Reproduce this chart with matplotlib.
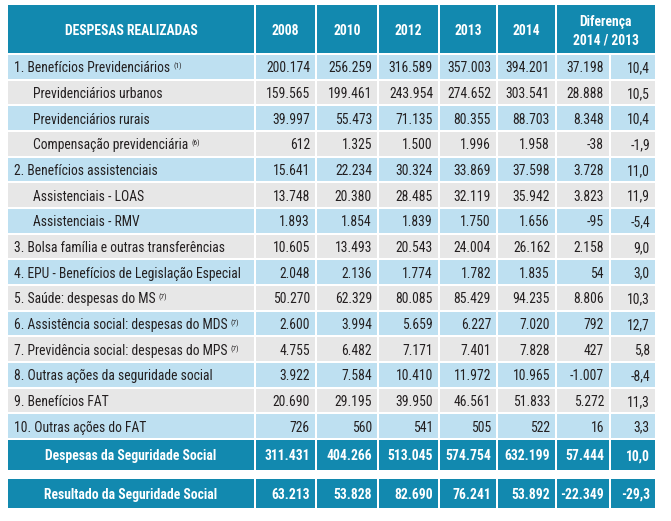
import matplotlib
matplotlib.use("Agg")
import matplotlib.pyplot as plt
from matplotlib.patches import Rectangle
from matplotlib import font_manager
from matplotlib.font_manager import FontProperties

# ---------------- data ----------------
header_label = "DESPESAS REALIZADAS"
years = ["2008", "2010", "2012", "2013", "2014"]
diff_header = "Diferença\n2014 / 2013"

row_labels = [
    "1. Benefícios Previdenciários",
    "Previdenciários urbanos",
    "Previdenciários rurais",
    "Compensação previdenciária",
    "2. Benefícios assistenciais",
    "Assistenciais - LOAS",
    "Assistenciais - RMV",
    "3. Bolsa família e outras transferências",
    "4. EPU - Benefícios de Legislação Especial",
    "5. Saúde: despesas do MS",
    "6. Assistência social: despesas do MDS",
    "7. Previdência social: despesas do MPS",
    "8. Outras ações da seguridade social",
    "9. Benefícios FAT",
    "10. Outras ações do FAT",
]
row_notes = ["(1)", "", "", "(6)", "", "", "", "", "", "(7)", "(7)", "(7)", "", "", ""]
row_indent = [0, 1, 1, 1, 0, 1, 1, 0, 0, 0, 0, 0, 0, 0, 0]

v2008 = ["200.174", "159.565", "39.997", "612", "15.641", "13.748", "1.893", "10.605",
         "2.048", "50.270", "2.600", "4.755", "3.922", "20.690", "726"]
v2010 = ["256.259", "199.461", "55.473", "1.325", "22.234", "20.380", "1.854", "13.493",
         "2.136", "62.329", "3.994", "6.482", "7.584", "29.195", "560"]
v2012 = ["316.589", "243.954", "71.135", "1.500", "30.324", "28.485", "1.839", "20.543",
         "1.774", "80.085", "5.659", "7.171", "10.410", "39.950", "541"]
v2013 = ["357.003", "274.652", "80.355", "1.996", "33.869", "32.119", "1.750", "24.004",
         "1.782", "85.429", "6.227", "7.401", "11.972", "46.561", "505"]
v2014 = ["394.201", "303.541", "88.703", "1.958", "37.598", "35.942", "1.656", "26.162",
         "1.835", "94.235", "7.020", "7.828", "10.965", "51.833", "522"]
diff_abs = ["37.198", "28.888", "8.348", "-38", "3.728", "3.823", "-95", "2.158",
            "54", "8.806", "792", "427", "-1.007", "5.272", "16"]
diff_pct = ["10,4", "10,5", "10,4", "-1,9", "11,0", "11,9", "-5,4", "9,0",
            "3,0", "10,3", "12,7", "5,8", "-8,4", "11,3", "3,3"]

total_labels = ["Despesas da Seguridade Social", "Resultado da Seguridade Social"]
total_values = [
    ["311.431", "404.266", "513.045", "574.754", "632.199", "57.444", "10,0"],
    ["63.213", "53.828", "82.690", "76.241", "53.892", "-22.349", "-29,3"],
]

# ---------------- fonts ----------------
ttfs = font_manager.fontManager.ttflist
names = {f.name for f in ttfs}


def find_font(weight_bold):
    # prefer a narrow / condensed sans font if one is installed
    for fam in ["Liberation Sans Narrow", "Arial Narrow", "Roboto Condensed",
                "Open Sans Condensed", "Noto Sans Condensed"]:
        for f in ttfs:
            if f.name == fam and f.style == "normal":
                w = f.weight if isinstance(f.weight, int) else (700 if "bold" in str(f.weight) else 400)
                if (w >= 600) == weight_bold:
                    return f.fname
    for fam in ["Noto Sans", "DejaVu Sans", "Roboto", "Open Sans"]:
        for f in ttfs:
            if f.name == fam and f.style == "normal" and f.stretch in ("condensed", "semi-condensed"):
                w = f.weight if isinstance(f.weight, int) else (700 if "bold" in str(f.weight) else 400)
                if weight_bold and w == 700:
                    return f.fname
                if not weight_bold and w == 400:
                    return f.fname
    return None


reg_file = find_font(False)
bold_file = find_font(True)
if reg_file:
    FP = FontProperties(fname=reg_file)
    FPB = FontProperties(fname=bold_file) if bold_file else FontProperties(fname=reg_file, weight="bold")
else:
    FP = FontProperties(family=["Liberation Sans", "DejaVu Sans"])
    FPB = FontProperties(family=["Liberation Sans", "DejaVu Sans"], weight="bold")

TEAL = "#1289AF"
BLUE = "#BEE0F1"
GREY = "#E7E7E7"
TXT = "#231F20"
GAP = 1.0

col_edges = [7, 255, 316, 378, 439, 497, 556, 610, 656]
header_top, header_bot = 4, 54
row_h = (439 - 54) / 15
tot_rows = [(439, 471), (478, 509)]

fig = plt.figure(figsize=(6.71, 5.21), dpi=100)
ax = fig.add_axes([0, 0, 1, 1])
ax.set_xlim(0, 671)
ax.set_ylim(521, 0)
ax.axis("off")
renderer = fig.canvas.get_renderer()


def text_width(s, fp, size):
    t = ax.text(0, 0, s, fontproperties=fp, fontsize=size)
    w = t.get_window_extent(renderer=renderer).width
    t.remove()
    return w


# choose size so the longest label spans as in reference (~226 px), capped at 10 pt
FS = 10.0
w = text_width("4. EPU - Benefícios de Legislação Especial", FP, FS)
if w > 226:
    FS = FS * 226 / w
CAP = 0.72 * FS * 100 / 72  # cap height in px


def put(x, yc, s, ha, color, bold=False, size=None):
    size = size or FS
    cap = 0.72 * size * 100 / 72
    return ax.text(x, yc + cap / 2, s, ha=ha, va="baseline", color=color,
                   fontproperties=FPB if bold else FP, fontsize=size)


def cell(x0, x1, y0, y1, color):
    ax.add_patch(Rectangle((x0 + GAP, y0 + GAP), x1 - x0 - 2 * GAP, y1 - y0 - 2 * GAP,
                           facecolor=color, edgecolor="none"))


# header
hc = (header_top + header_bot) / 2 + 1
cell(col_edges[0], col_edges[1], header_top, header_bot, TEAL)
put((col_edges[0] + col_edges[1]) / 2, hc, header_label, "center", "white", bold=True)
for i, y in enumerate(years):
    x0, x1 = col_edges[i + 1], col_edges[i + 2]
    cell(x0, x1, header_top, header_bot, TEAL)
    put((x0 + x1) / 2, hc, y, "center", "white", bold=True)
cell(col_edges[6], col_edges[8], header_top, header_bot, TEAL)
dl1, dl2 = diff_header.split("\n")
xm = (col_edges[6] + col_edges[8]) / 2
put(xm, hc - 9, dl1, "center", "white", bold=True)
put(xm, hc + 10, dl2, "center", "white", bold=True)

# body
columns = [v2008, v2010, v2012, v2013, v2014, diff_abs, diff_pct]
for r, lab in enumerate(row_labels):
    y0 = header_bot + r * row_h
    y1 = y0 + row_h
    yc = (y0 + y1) / 2 + 0.5
    color = BLUE if r % 2 == 0 else GREY
    for c in range(8):
        cell(col_edges[c], col_edges[c + 1], y0, y1, color)
    x_lab = 14 if row_indent[r] == 0 else 33
    t = put(x_lab, yc, lab, "left", TXT)
    if row_notes[r]:
        bb = t.get_window_extent(renderer=renderer)
        x_end = ax.transData.inverted().transform((bb.x1, bb.y0))[0]
        ax.text(x_end + 3, yc - CAP / 2 + 0.5, row_notes[r], ha="left", va="top", color=TXT,
                fontproperties=FP, fontsize=FS * 0.55)
    for c, vals in enumerate(columns):
        put(col_edges[c + 2] - 6, yc, vals[r], "right", TXT)

# totals
for k, (y0, y1) in enumerate(tot_rows):
    yc = (y0 + y1) / 2 + 0.5
    for c in range(8):
        cell(col_edges[c], col_edges[c + 1], y0, y1, TEAL)
    put((col_edges[0] + col_edges[1]) / 2, yc, total_labels[k], "center", "white", bold=True)
    for c, v in enumerate(total_values[k]):
        put(col_edges[c + 2] - 6, yc, v, "right", "white", bold=True)

fig.savefig("out.png", dpi=100, facecolor="white")
